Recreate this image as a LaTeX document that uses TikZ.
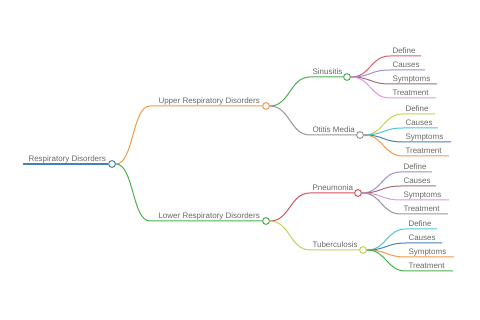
\documentclass[tikz,border=0pt]{standalone}
\usepackage{fontspec}
\setmainfont{Liberation Sans}
\definecolor{txtc}{RGB}{105,105,105}
\definecolor{rootc}{RGB}{70,130,180}
\definecolor{upperc}{RGB}{242,153,74}
\definecolor{lowerc}{RGB}{76,175,80}
\definecolor{otic}{RGB}{150,150,150}
\definecolor{pneuc}{RGB}{214,80,90}
\definecolor{tbc}{RGB}{196,210,80}
\definecolor{cRed}{RGB}{220,90,110}
\definecolor{cPurple}{RGB}{160,140,210}
\definecolor{cMauve}{RGB}{160,110,120}
\definecolor{cPink}{RGB}{225,150,220}
\definecolor{cYG}{RGB}{200,210,70}
\definecolor{cCyan}{RGB}{80,195,215}
\definecolor{cBlue}{RGB}{70,130,180}
\definecolor{cOrange}{RGB}{242,153,74}
\definecolor{cGray}{RGB}{150,150,150}
\definecolor{cGreen}{RGB}{76,175,80}
\begin{document}
\begin{tikzpicture}[x=1pt,y=-1pt,line width=1pt,
  dot/.style={circle,draw,fill=white,inner sep=0pt,minimum size=6.8pt,line width=1pt},
  lbl/.style={font=\fontsize{8}{9}\selectfont,text=txtc,inner sep=0pt}]
\useasboundingbox (0,0) rectangle (480,320);
% circles
\node[dot,draw=rootc] (r) at (112,164) {};
\node[dot,draw=upperc] (u) at (266,106) {};
\node[dot,draw=lowerc] (l) at (266,221) {};
\node[dot,draw=lowerc] (s) at (347,77) {};
\node[dot,draw=otic] (o) at (360,135) {};
\node[dot,draw=pneuc] (p) at (358,193) {};
\node[dot,draw=tbc] (t) at (363,250) {};
% root
\coordinate (r0) at (23,164);
\draw[rootc,line width=1.2pt] (r0) -- (r.west);
\node[lbl,anchor=base west] (rt) at (28,161.5) {Respiratory Disorders};
% level 1
\coordinate (u0) at (150,106);
\coordinate (l0) at (150,221);
\draw[upperc] (r.east) .. controls +(18,0) and +(-18,0) .. (u0) -- (u.west);
\draw[lowerc] (r.east) .. controls +(18,0) and +(-18,0) .. (l0) -- (l.west);
\node[lbl,anchor=base west] (ut) at (158,103.5) {Upper Respiratory Disorders};
\node[lbl,anchor=base west] (lt) at (158,218.5) {Lower Respiratory Disorders};
% level 2
\coordinate (s0) at (310,77);
\coordinate (o0) at (310,135);
\coordinate (p0) at (310,193);
\coordinate (t0) at (310,250);
\draw[lowerc] (u.east) .. controls +(20,0) and +(-20,0) .. (s0) -- (s.west);
\draw[otic] (u.east) .. controls +(20,0) and +(-20,0) .. (o0) -- (o.west);
\draw[pneuc] (l.east) .. controls +(20,0) and +(-20,0) .. (p0) -- (p.west);
\draw[tbc] (l.east) .. controls +(20,0) and +(-20,0) .. (t0) -- (t.west);
\node[lbl,anchor=base west] (st) at (312,74.5) {Sinusitis};
\node[lbl,anchor=base west] (ot) at (312,132.5) {Otitis Media};
\node[lbl,anchor=base west] (pt) at (312,190.5) {Pneumonia};
\node[lbl,anchor=base west] (tt) at (312,247.5) {Tuberculosis};
% leaves
\foreach \yy/\xe/\lc/\lt [count=\i] in {56/421/cRed/Define,70/425/cPurple/Causes,84/437/cMauve/Symptoms,98/436/cPink/Treatment}{
  \coordinate (s\i a) at (390,\yy);
  \coordinate (s\i b) at (\xe,\yy);
  \draw[color=\lc] (s.east) .. controls +(20,0) and +(-20,0) .. (s\i a) -- (s\i b);
  \node[lbl,anchor=base west] (s\i t) at (392,\yy-2.5) {\lt};
}
\foreach \yy/\xe/\lc/\lt [count=\i] in {114/435/cYG/Define,128/438/cCyan/Causes,142/451/cBlue/Symptoms,156/449/cOrange/Treatment}{
  \coordinate (o\i a) at (403,\yy);
  \coordinate (o\i b) at (\xe,\yy);
  \draw[color=\lc] (o.east) .. controls +(20,0) and +(-20,0) .. (o\i a) -- (o\i b);
  \node[lbl,anchor=base west] (o\i t) at (405,\yy-2.5) {\lt};
}
\foreach \yy/\xe/\lc/\lt [count=\i] in {172/432/cPurple/Define,186/436/cMauve/Causes,200/449/cPink/Symptoms,214/448/cGray/Treatment}{
  \coordinate (p\i a) at (401,\yy);
  \coordinate (p\i b) at (\xe,\yy);
  \draw[color=\lc] (p.east) .. controls +(20,0) and +(-20,0) .. (p\i a) -- (p\i b);
  \node[lbl,anchor=base west] (p\i t) at (403,\yy-2.5) {\lt};
}
\foreach \yy/\xe/\lc/\lt [count=\i] in {229/437/cCyan/Define,243/442/cBlue/Causes,257/454/cOrange/Symptoms,271/453/cGreen/Treatment}{
  \coordinate (t\i a) at (406,\yy);
  \coordinate (t\i b) at (\xe,\yy);
  \draw[color=\lc] (t.east) .. controls +(20,0) and +(-20,0) .. (t\i a) -- (t\i b);
  \node[lbl,anchor=base west] (t\i t) at (408,\yy-2.5) {\lt};
}
\end{tikzpicture}
\end{document}
